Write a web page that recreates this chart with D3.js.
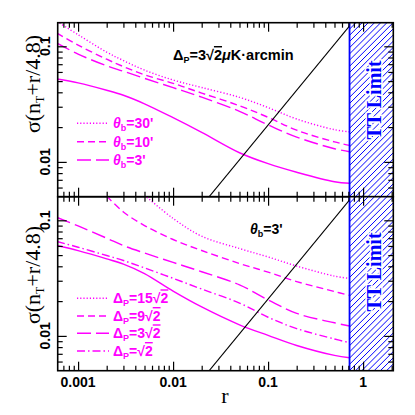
<!DOCTYPE html>
<html><head><meta charset="utf-8">
<script src="https://cdn.jsdelivr.net/npm/d3@7"></script>
<style>body{margin:0;background:#fff} svg{display:block}</style>
</head><body>
<svg id="c" width="415" height="415"></svg>
<script>
// ---------------- data ----------------
const rGrid = [0.0006, 0.001, 0.002, 0.003, 0.005, 0.01, 0.02, 0.05, 0.1, 0.2, 0.5, 0.72];
// top panel: Delta_P = 3 sqrt2 uK-arcmin, varying beam
const topTheta30 = [0.164, 0.126, 0.089, 0.0753, 0.0622, 0.0511, 0.0440, 0.0362, 0.0295, 0.0235, 0.0190, 0.0182];
const topTheta10 = [0.130, 0.1024, 0.0773, 0.0668, 0.0567, 0.0478, 0.0394, 0.0306, 0.0243, 0.0188, 0.0149, 0.0139];
const topTheta3  = [0.1064, 0.0856, 0.0678, 0.0608, 0.0528, 0.0439, 0.0363, 0.0274, 0.0209, 0.0164, 0.0130, 0.01225];
const topSolid   = [0.0521, 0.0483, 0.0417, 0.0377, 0.0318, 0.0241, 0.0180, 0.0120, 0.00965, 0.00813, 0.00673, 0.00653];
// bottom panel: theta_b = 3', varying noise
const botDelta15 = [null, null, null, null, 0.165, 0.1038, 0.0728, 0.0570, 0.0482, 0.0402, 0.0329, 0.0314];
const botDelta9  = [null, null, 0.162, 0.1179, 0.0901, 0.0682, 0.0548, 0.0423, 0.0356, 0.0295, 0.0242, 0.0224];
const botDelta3  = [0.1059, 0.0894, 0.0700, 0.0604, 0.0521, 0.0432, 0.0359, 0.0276, 0.0205, 0.01565, 0.01298, 0.01218];
const botDelta1  = [0.0655, 0.0585, 0.0496, 0.0449, 0.0387, 0.0315, 0.0254, 0.01925, 0.0145, 0.01156, 0.0094, 0.00873];
const botSolid   = [0.0605, 0.0546, 0.0464, 0.0418, 0.0346, 0.0244, 0.01780, 0.01247, 0.0101, 0.00826, 0.00678, 0.00648];
// consistency line sigma = r/4.8 (end points)
const lineR = [0.02, 0.8];
const lineSigma = [0.00417, 0.1667];
const ttLimitR = 0.72;
const xTickValues = [0.001, 0.01, 0.1, 1];
const xTickLabels = ["0.001", "0.01", "0.1", "1"];
const yTickValues = [0.01, 0.1];
const yTickLabels = ["0.01", "0.1"];
const topLegendLabels = ["30'", "10'", "3'"];
const botLegendLabels = ["15", "9", "3", ""];

// ---------------- layout ----------------
const L = 57.7, R = 393.3;
const panels = [{t: 22.7, b: 196.7}, {t: 196.7, b: 370.7}];
const MAG = "#ff00ff", BLUE = "#0000ff";
const dashes = {dot: "1.2,2", dash: "7,4", ldash: "14,5", dashdot: "8,3,1.5,3", solid: null};

const x = d3.scaleLog().domain([6.1e-4, 2.08]).range([L, R]);
const svg = d3.select("#c");
const defs = svg.append("defs");

const sansFont = "'Liberation Sans', Arial, sans-serif";
const serifFont = "'Liberation Serif', 'Times New Roman', serif";

function drawPanel(idx, series, legend, legendRows) {
  const p = panels[idx];
  const y = d3.scaleLog().domain([0.005, 0.16]).range([p.b, p.t]);
  const g = svg.append("g");
  defs.append("clipPath").attr("id", "clip" + idx).append("rect")
    .attr("x", L).attr("y", p.t).attr("width", R - L).attr("height", p.b - p.t);
  const xt = x(ttLimitR);
  defs.append("clipPath").attr("id", "hclip" + idx).append("rect")
    .attr("x", xt).attr("y", p.t).attr("width", R - xt).attr("height", p.b - p.t);
  const pg = g.append("g").attr("clip-path", `url(#clip${idx})`);

  const line = d3.line().defined(d => d[1] != null)
    .x(d => x(d[0])).y(d => y(d[1])).curve(d3.curveCatmullRom.alpha(0.5));
  series.forEach(s => {
    pg.append("path").attr("d", line(rGrid.map((r, i) => [r, s.v[i]])))
      .attr("fill", "none").attr("stroke", MAG).attr("stroke-width", 1.4)
      .attr("stroke-dasharray", dashes[s.style]);
  });
  // consistency line
  pg.append("path").attr("d", d3.line().x(d => x(d[0])).y(d => y(d[1]))(lineR.map((r, i) => [r, lineSigma[i]])))
    .attr("fill", "none").attr("stroke", "#000").attr("stroke-width", 1.1);
  // TT limit hatch
  const hg = g.append("g").attr("clip-path", `url(#hclip${idx})`);
  hg.append("rect").attr("x", xt).attr("y", p.t).attr("width", R - xt).attr("height", p.b - p.t)
    .attr("fill", "#fff");
  const h = p.b - p.t;
  const starts = d3.range(xt - h - 6, R + 6, 6.2);
  hg.selectAll("line.h").data(starts).join("line")
    .attr("x1", d => d).attr("y1", p.b).attr("x2", d => d + h).attr("y2", p.t)
    .attr("stroke", BLUE).attr("stroke-width", 1);
  g.append("line").attr("x1", xt).attr("x2", xt).attr("y1", p.t).attr("y2", p.b)
    .attr("stroke", BLUE).attr("stroke-width", 1.8);
  const ty = idx === 0 ? 100 : 272;
  g.append("text").attr("transform", `translate(381,${ty}) rotate(-90)`)
    .attr("text-anchor", "middle").attr("font-family", serifFont).attr("font-weight", "bold")
    .attr("font-size", 20).attr("fill", BLUE).attr("stroke", "#fff").attr("stroke-width", 3)
    .attr("paint-order", "stroke").text("TT Limit");

  // axes (ticks only)
  const minorX = [];
  [0.0001, 0.001, 0.01, 0.1, 1].forEach(d => { for (let k = 2; k <= 9; k++) { const v = d * k; if (v > 6.1e-4 && v < 2.08) minorX.push(v); } });
  const minorY = [];
  [0.001, 0.01, 0.1].forEach(d => { for (let k = 2; k <= 9; k++) { const v = d * k; if (v > 0.005 && v < 0.16) minorY.push(v); } });
  [[d3.axisBottom, p.b], [d3.axisTop, p.t]].forEach(([f, ty0]) => {
    const a1 = g.append("g").attr("transform", `translate(0,${ty0})`)
      .call(f(x).tickValues(xTickValues).tickSize(-9).tickSizeOuter(0).tickFormat(""));
    a1.select(".domain").remove();
    const a2 = g.append("g").attr("transform", `translate(0,${ty0})`)
      .call(f(x).tickValues(minorX).tickSize(-5).tickSizeOuter(0).tickFormat(""));
    a2.select(".domain").remove();
  });
  [[d3.axisLeft, L], [d3.axisRight, R]].forEach(([f, tx]) => {
    const a1 = g.append("g").attr("transform", `translate(${tx},0)`)
      .call(f(y).tickValues(yTickValues).tickSize(-9).tickSizeOuter(0).tickFormat(""));
    a1.select(".domain").remove();
    const a2 = g.append("g").attr("transform", `translate(${tx},0)`)
      .call(f(y).tickValues(minorY).tickSize(-5).tickSizeOuter(0).tickFormat(""));
    a2.select(".domain").remove();
  });
  g.selectAll(".tick line").attr("stroke", "#000").attr("stroke-width", 1.2);

  // frame
  g.append("rect").attr("x", L).attr("y", p.t).attr("width", R - L).attr("height", p.b - p.t)
    .attr("fill", "none").attr("stroke", "#000").attr("stroke-width", 1.6);

  // y tick labels
  yTickValues.forEach((v, i) => {
    g.append("text").attr("transform", `translate(50,${y(v)}) rotate(-90)`)
      .attr("text-anchor", "middle").attr("font-family", sansFont).attr("font-size", 14)
      .attr("font-weight", "bold").text(yTickLabels[i]);
  });
  // y label
  const ly = idx === 0 ? 84 : 275;
  const yl = g.append("text").attr("transform", `translate(40,${ly}) rotate(-90)`)
    .attr("text-anchor", "middle").attr("font-family", serifFont).attr("font-size", 22);
  yl.append("tspan").text("σ(n");
  yl.append("tspan").attr("dy", 4).attr("font-size", 12).text("T");
  yl.append("tspan").attr("dy", -4).text("+r/4.8)");

  // legend
  series.filter(s => s.label !== undefined).forEach((s, i) => {
    const ry = legendRows[i];
    g.append("line").attr("x1", 77).attr("x2", 109).attr("y1", ry).attr("y2", ry)
      .attr("stroke", MAG).attr("stroke-width", 1.4).attr("stroke-dasharray", dashes[s.style]);
    const t = g.append("text").attr("x", 113).attr("y", ry + 5).attr("font-family", sansFont)
      .attr("font-weight", "bold").attr("font-size", 14).attr("fill", MAG);
    legend(t, s.label);
  });
  return y;
}

function thetaLabel(t, lab) {
  t.append("tspan").attr("font-style", "italic").text("θ");
  t.append("tspan").attr("dy", 3).attr("font-size", 9).text("b");
  t.append("tspan").attr("dy", -3).text("=" + lab);
}
function deltaLabel(t, lab) {
  t.append("tspan").text("Δ");
  t.append("tspan").attr("dy", 3).attr("font-size", 9).text("P");
  t.append("tspan").attr("dy", -3).text("=" + lab + "√");
  t.append("tspan").style("text-decoration", "overline").text("2");
}

drawPanel(0, [
  {v: topTheta30, style: "dot", label: topLegendLabels[0]},
  {v: topTheta10, style: "dash", label: topLegendLabels[1]},
  {v: topTheta3, style: "ldash", label: topLegendLabels[2]},
  {v: topSolid, style: "solid"}
], thetaLabel, [123.3, 141.7, 160]);

drawPanel(1, [
  {v: botDelta15, style: "dot", label: botLegendLabels[0]},
  {v: botDelta9, style: "dash", label: botLegendLabels[1]},
  {v: botDelta3, style: "ldash", label: botLegendLabels[2]},
  {v: botDelta1, style: "dashdot", label: botLegendLabels[3]},
  {v: botSolid, style: "solid"}
], deltaLabel, [298.3, 316, 333.3, 351]);

// annotations
const a1 = svg.append("text").attr("x", 173).attr("y", 60).attr("font-family", sansFont)
  .attr("font-weight", "bold").attr("font-size", 14.5).attr("fill", "#000");
a1.append("tspan").text("Δ");
a1.append("tspan").attr("dy", 3).attr("font-size", 9).text("P");
a1.append("tspan").attr("dy", -3).text("=3√");
a1.append("tspan").style("text-decoration", "overline").text("2");
a1.append("tspan").attr("font-style", "italic").text("μ");
a1.append("tspan").text("K·arcmin");

const a2 = svg.append("text").attr("x", 250).attr("y", 234).attr("font-family", sansFont)
  .attr("font-weight", "bold").attr("font-size", 14).attr("fill", "#000");
thetaLabel(a2, "3'");

// x tick labels
xTickValues.forEach((v, i) => {
  svg.append("text").attr("x", x(v)).attr("y", 387).attr("text-anchor", "middle")
    .attr("font-family", sansFont).attr("font-weight", "bold").attr("font-size", 14).text(xTickLabels[i]);
});
svg.append("text").attr("x", 225).attr("y", 403).attr("text-anchor", "middle")
  .attr("font-family", serifFont).attr("font-size", 22).text("r");
</script>
</body></html>
